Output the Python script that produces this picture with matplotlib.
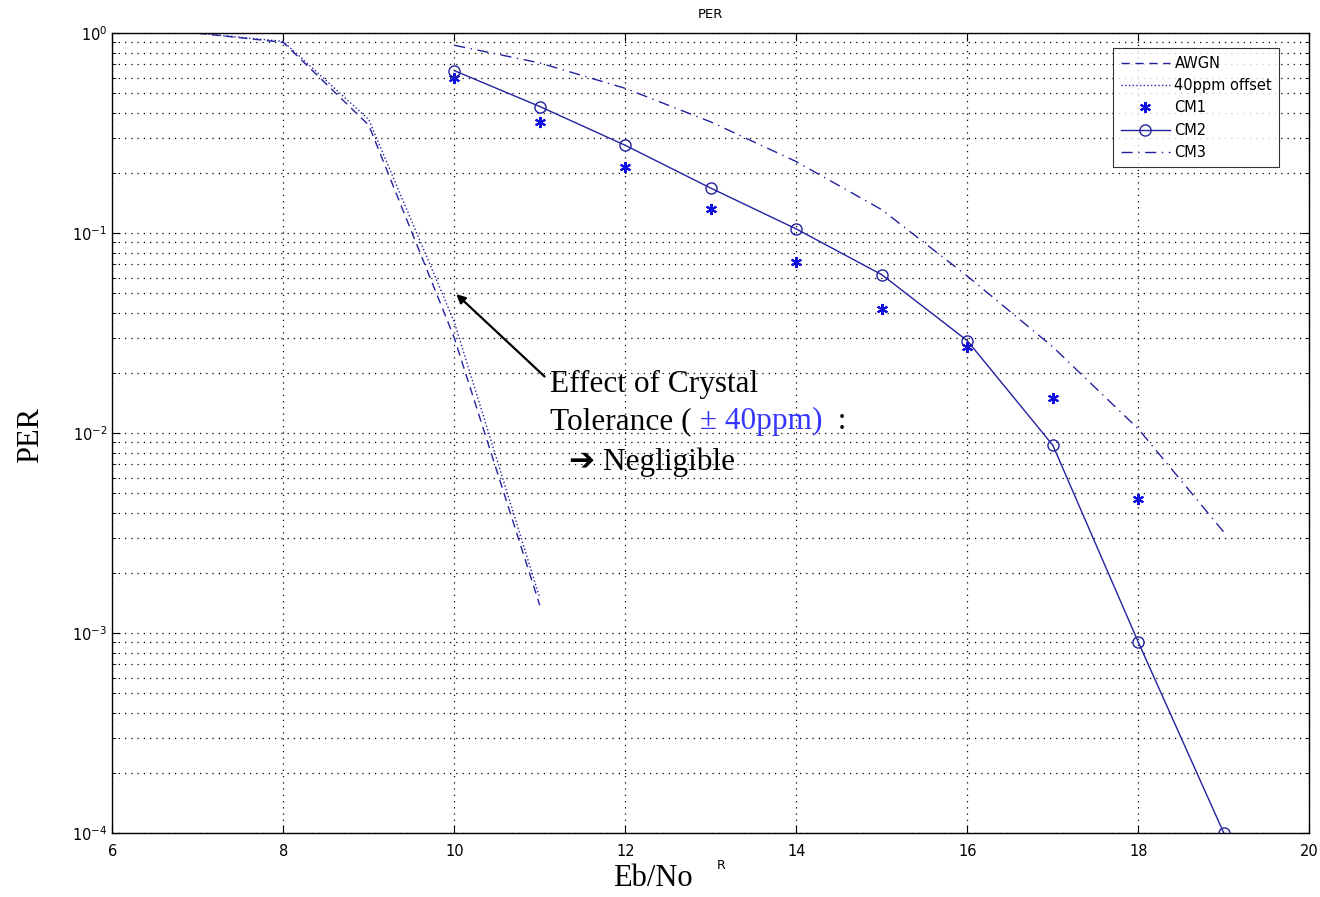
import numpy as np
import matplotlib
matplotlib.use('Agg')
import matplotlib.pyplot as plt
from matplotlib.ticker import LogLocator, NullFormatter, MultipleLocator

# Eb/No (dB) and PER values
ebno_awgn = [7, 8, 9, 10, 11]
per_awgn = [1.0, 0.90, 0.347, 0.030, 0.00138]

ebno_40ppm = [7, 8, 9, 10, 11]
per_40ppm = [1.0, 0.91, 0.37, 0.036, 0.0015]

ebno_cm = [10, 11, 12, 13, 14, 15, 16, 17, 18, 19]
per_cm1 = [0.60, 0.36, 0.214, 0.132, 0.0716, 0.0417, 0.027, 0.015, 0.0047]
per_cm2 = [0.65, 0.43, 0.275, 0.168, 0.105, 0.062, 0.029, 0.0087, 0.0009, 0.0001]
per_cm3 = [0.87, 0.71, 0.53, 0.36, 0.228, 0.131, 0.061, 0.027, 0.0105, 0.0032]

line_col = '#2222a0'
mark_col = '#1010e0'
grid_ls = (0, (1, 4))

fig = plt.figure(figsize=(13.2, 8.97), dpi=100)
ax = fig.add_axes([0.085, 0.071, 0.907, 0.892])

ax.semilogy(ebno_awgn, per_awgn, '--', color=line_col, lw=1, dashes=(6, 4), label='AWGN')
ax.semilogy(ebno_40ppm, per_40ppm, ':', color=line_col, lw=1, label='40ppm offset')
ax.semilogy(ebno_cm[:len(per_cm1)], per_cm1, ls='none', marker=(6, 2, 0), color=mark_col,
            ms=8, mew=1.5, label='CM1')
ax.semilogy(ebno_cm, per_cm2, '-o', color=line_col, lw=1, ms=8, mfc='none', mec=line_col, label='CM2')
ax.semilogy(ebno_cm, per_cm3, '-.', color=line_col, lw=1, dashes=(8, 4, 1, 4), label='CM3')

ax.set_xlim(6, 20)
ax.set_ylim(1e-4, 1)
ax.xaxis.set_major_locator(MultipleLocator(2))
ax.yaxis.set_major_locator(LogLocator(base=10, numticks=10))
ax.yaxis.set_minor_locator(LogLocator(base=10, subs=np.arange(2, 10), numticks=50))
ax.yaxis.set_minor_formatter(NullFormatter())

ax.grid(True, which='major', linestyle=grid_ls, color='black', lw=0.9)
ax.grid(True, which='minor', axis='y', linestyle=grid_ls, color='black', lw=0.9)
ax.tick_params(which='both', direction='in', top=True, right=True, labelsize=10.5)
ax.tick_params(axis='x', pad=8)
ax.tick_params(which='major', length=6)
ax.tick_params(which='minor', length=3)
for s in ax.spines.values():
    s.set_linewidth(1)

ax.set_title('PER', fontsize=9.5, pad=11)
ax.set_ylabel('PER', family='Liberation Serif', fontsize=22)
ax.yaxis.set_label_coords(-0.056, 0.4975)
ax.set_xlabel('Eb/No', family='Liberation Serif', fontsize=22)
ax.xaxis.set_label_coords(0.452, -0.038)
fig.text(0.543, 0.031, 'R', fontsize=9)

leg = ax.legend(loc='upper right', fontsize=10.5, frameon=True, fancybox=False,
                edgecolor='black', handlelength=3.4, borderpad=0.5,
                labelspacing=0.5, handletextpad=0.3,
                bbox_to_anchor=(0.981, 0.99))
leg.get_frame().set_linewidth(0.8)

# annotation
ax.annotate('', xy=(10.0, 0.0507), xytext=(11.08, 0.0188),
            arrowprops=dict(arrowstyle='-|>', color='black', lw=1.6, mutation_scale=13))
fs = 22.5
serif = ['Liberation Serif', 'DejaVu Sans']
ax.text(11.12, 0.0175, 'Effect of Crystal', family=serif, fontsize=fs, va='center')
t2 = ax.text(11.12, 0.0114, 'Tolerance (', family=serif, fontsize=fs, va='center')
t3 = ax.annotate(' \u00b1 40ppm)', xy=(1, 0), xycoords=t2, va='bottom',
                 family=serif, fontsize=fs, color='#3535ff')
ax.annotate('  :', xy=(1, 0), xycoords=t3, va='bottom', family=serif, fontsize=fs)
ax.text(11.34, 0.0072, '\u2794 Negligible', family=serif, fontsize=fs, va='center')

fig.savefig('out.png', dpi=100, facecolor='white')
